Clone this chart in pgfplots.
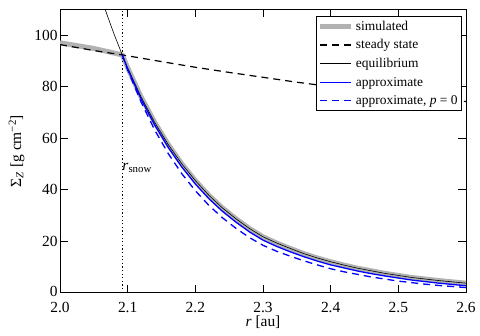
\documentclass[border=0pt]{standalone}
\usepackage{fontspec}
\setmainfont{Liberation Serif}
\usepackage{pgfplots}
\pgfplotsset{compat=1.18}

\definecolor{simgray}{RGB}{178,178,178}

\begin{document}
\begin{tikzpicture}
\begin{axis}[
  name=ax,
  scale only axis,
  width=406bp, height=283.4bp,
  xmin=2.0, xmax=2.6, ymin=0, ymax=110,
  xtick={2.0,2.1,2.2,2.3,2.4,2.5,2.6},
  ytick={0,20,40,60,80,100},
  yticklabels={\raisebox{3.5bp}{0},20,40,60,80,100},
  /pgf/number format/assume math mode=true,
  tick label style={font=\fontsize{15.5}{17}\selectfont},
  xticklabel style={inner ysep=0pt, yshift=-9bp, /pgf/number format/.cd, fixed, fixed zerofill, precision=1},
  yticklabel style={inner ysep=0pt, xshift=1bp},
  label style={font=\fontsize{15.5}{17}\selectfont},
  xlabel style={yshift=0bp},
  ylabel style={yshift=3bp},
  tick align=inside,
  major tick length=8bp,
  every tick/.style={black, line width=0.6bp},
  axis line style={line width=1bp},
  xlabel={\textit{r} [au]},
  ylabel={Σ\textsubscript{\textit{Z}} [g cm\textsuperscript{−2}]},
  legend cell align=left,
  legend style={at={(rel axis cs:1,1)}, anchor=north east, xshift=-4bp, yshift=-7bp,
    font=\fontsize{13.5}{15}\selectfont, draw=black, line width=0.8bp,
    fill=white, inner sep=2bp, row sep=4bp},
  legend image code/.code={\draw[#1] (0bp,0bp) -- (31bp,0bp);},
]
% simulated
\addplot[simgray, line width=5bp] coordinates {
 (2.00,97.0) (2.05,94.8) (2.092,92.3) (2.10,87.3) (2.12,75.9) (2.14,66.1)
 (2.16,57.5) (2.18,50.0) (2.20,43.5) (2.22,37.8) (2.24,32.9) (2.26,28.7)
 (2.28,24.9) (2.30,21.7) (2.32,19.3) (2.34,17.2) (2.36,15.2) (2.38,13.5)
 (2.40,12.0) (2.42,10.7) (2.44,9.5) (2.46,8.5) (2.48,7.5) (2.50,6.7)
 (2.52,5.9) (2.54,5.3) (2.56,4.7) (2.58,4.2) (2.60,3.7)};
\addlegendentry{simulated}
% steady state
\addplot[black, line width=1.2bp, dash pattern=on 7bp off 5bp] coordinates {
 (2.00,96.3) (2.05,94.0) (2.092,92.3) (2.15,89.7) (2.20,87.5) (2.25,85.5)
 (2.30,83.6) (2.35,81.7) (2.40,80.0) (2.45,78.4) (2.50,76.9) (2.55,75.5)
 (2.60,74.2)};
\addlegendentry{steady state}
% equilibrium
\addplot[black, line width=0.6bp] coordinates {
 (2.06,115.3) (2.07,107.5) (2.08,100.3) (2.092,92.3) (2.10,87.3) (2.12,75.9)
 (2.14,66.1) (2.16,57.5) (2.18,50.0) (2.20,43.5) (2.22,37.8) (2.24,32.9)
 (2.26,28.7) (2.28,24.9) (2.30,21.7) (2.32,19.3) (2.34,17.2) (2.36,15.2)
 (2.38,13.5) (2.40,12.0) (2.42,10.7) (2.44,9.5) (2.46,8.5) (2.48,7.5)
 (2.50,6.7) (2.52,5.9) (2.54,5.3) (2.56,4.7) (2.58,4.2) (2.60,3.7)};
\addlegendentry{equilibrium}
% approximate
\addplot[blue, line width=1.3bp] coordinates {
 (2.092,92.3) (2.10,86.8) (2.12,75.1) (2.14,65.1) (2.16,56.4) (2.18,48.8)
 (2.20,42.2) (2.22,36.5) (2.24,31.6) (2.26,27.4) (2.28,23.6) (2.30,20.4)
 (2.32,18.0) (2.34,15.9) (2.36,14.0) (2.38,12.3) (2.40,10.8) (2.42,9.6)
 (2.44,8.4) (2.46,7.4) (2.48,6.5) (2.50,5.7) (2.52,4.9) (2.54,4.3)
 (2.56,3.7) (2.58,3.2) (2.60,2.7)};
\addlegendentry{approximate}
% approximate, p = 0
\addplot[blue, line width=1.3bp, dash pattern=on 7bp off 5bp] coordinates {
 (2.092,92.3) (2.10,86.5) (2.12,73.9) (2.14,63.1) (2.16,54.0) (2.18,46.2)
 (2.20,39.6) (2.22,33.9) (2.24,29.1) (2.26,25.0) (2.28,21.4) (2.30,18.4)
 (2.32,16.1) (2.34,14.2) (2.36,12.4) (2.38,10.8) (2.40,9.3) (2.42,8.1)
 (2.44,7.1) (2.46,6.1) (2.48,5.3) (2.50,4.5) (2.52,3.9) (2.54,3.3)
 (2.56,2.8) (2.58,2.4) (2.60,2.0)};
\addlegendentry{approximate, \textit{p} = 0}
% snow line
\addplot[black, line width=1.2bp, dash pattern=on 1.2bp off 2.4bp, forget plot]
 coordinates {(2.092,0) (2.092,110)};
\node[anchor=west, inner sep=0pt, font=\fontsize{15.5}{17}\selectfont]
 at (axis cs:2.092,48.5) {\textit{r}\textsubscript{snow}};
\end{axis}
\pgfresetboundingbox
\path ([shift={(-60bp,-43.3bp)}]ax.south west) rectangle ([shift={(14bp,9.3bp)}]ax.north east);
\end{tikzpicture}
\end{document}
